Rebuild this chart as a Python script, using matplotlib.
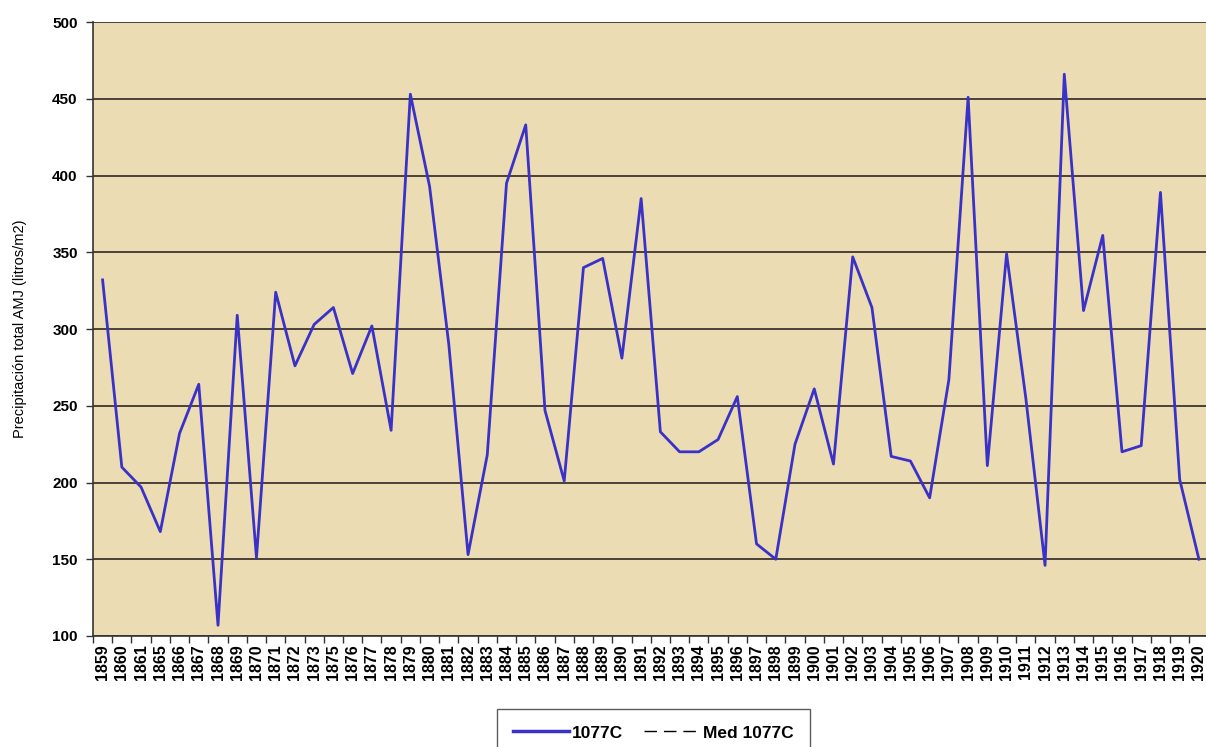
import matplotlib
matplotlib.use("Agg")
import matplotlib.pyplot as plt
from matplotlib.lines import Line2D
import numpy as np

years = [
    "1859", "1860", "1861", "1865", "1866", "1867", "1868", "1869", "1870", "1871",
    "1872", "1873", "1875", "1876", "1877", "1878", "1879", "1880", "1881", "1882",
    "1883", "1884", "1885", "1886", "1887", "1888", "1889", "1890", "1891", "1892",
    "1893", "1894", "1895", "1896", "1897", "1898", "1899", "1900", "1901", "1902",
    "1903", "1904", "1905", "1906", "1907", "1908", "1909", "1910", "1911", "1912",
    "1913", "1914", "1915", "1916", "1917", "1918", "1919", "1920",
]
precip_1077c = [
    332, 210, 197, 168, 232, 264, 107, 309, 151, 324,
    276, 303, 314, 271, 302, 234, 453, 393, 290, 153,
    218, 395, 433, 247, 201, 340, 346, 281, 385, 233,
    220, 220, 228, 256, 160, 150, 225, 261, 212, 347,
    314, 217, 214, 190, 267, 451, 211, 349, 255, 146,
    466, 312, 361, 220, 224, 389, 202, 150,
]
y_ticks = [100, 150, 200, 250, 300, 350, 400, 450, 500]

plt.rcParams["font.family"] = ["Liberation Sans", "DejaVu Sans"]

fig = plt.figure(figsize=(12.06, 7.47), dpi=100)
# the plot area runs a little past the right edge, as in the original
ax = fig.add_axes([0.0771, 0.1486, 0.925, 0.8219])
ax.set_facecolor("#ecdcb4")

x = np.arange(len(years))
ax.plot(x, precip_1077c, color="#3a32c8", linewidth=2.0, zorder=3)

ax.set_xlim(-0.5, len(years) - 0.5)
ax.set_ylim(100, 500)
ax.set_yticks(y_ticks)
ax.set_yticklabels([str(v) for v in y_ticks], fontweight="bold", fontsize=11)
ax.yaxis.grid(True, color="#4a4036", linewidth=1.4, zorder=1)
ax.set_axisbelow(True)

ax.set_xticks(x)
ax.set_xticklabels(years, rotation=90, fontweight="bold", fontsize=11.5,
                   family=["Liberation Sans Narrow", "Liberation Sans", "DejaVu Sans"])
ax.set_xticks(np.arange(len(years) + 1) - 0.5, minor=True)
ax.tick_params(axis="x", which="major", length=0, pad=6)
ax.tick_params(axis="x", which="minor", length=5, width=1, color="#333333")
ax.tick_params(axis="y", length=5, width=1, color="#333333", pad=6)

ax.set_ylabel("Precipitación total AMJ (litros/m2)", fontsize=10.5, labelpad=18)

for side in ("top", "right"):
    ax.spines[side].set_visible(False)
for side in ("left", "bottom"):
    ax.spines[side].set_color("#333333")
    ax.spines[side].set_linewidth(1.2)

handles = [
    Line2D([], [], color="#3a32c8", linewidth=2.5),
    Line2D([], [], color="black", linewidth=1.0, linestyle=(0, (9, 5))),
]
leg = fig.legend(
    handles, ["1077C", "Med 1077C"],
    loc="lower center", bbox_to_anchor=(0.542, -0.025),
    ncol=2, frameon=True, fancybox=False, edgecolor="#333333",
    prop={"weight": "bold", "size": 12.5}, handlelength=3.2,
    columnspacing=1.2, handletextpad=0.2, borderpad=0.95,
)
leg.get_frame().set_linewidth(1.0)

fig.savefig("out.png", dpi=100, facecolor="white")
